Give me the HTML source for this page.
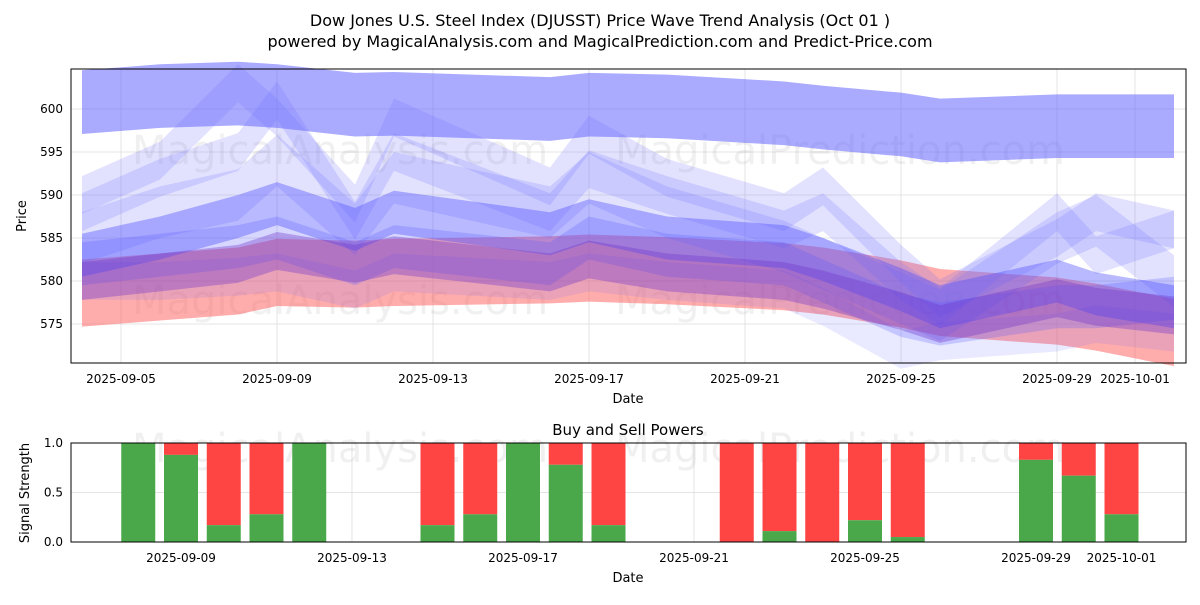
<!DOCTYPE html>
<html><head><meta charset="utf-8"><style>
body{margin:0;background:#fff;font-family:"Liberation Sans","DejaVu Sans",sans-serif}
svg text{font-family:"DejaVu Sans","Liberation Sans",sans-serif}
</style></head><body>
<svg id="c" width="1200" height="600" xmlns="http://www.w3.org/2000/svg">
<text x="600" y="26" text-anchor="middle" font-size="16">Dow Jones U.S. Steel Index (DJUSST) Price Wave Trend Analysis (Oct 01 )</text>
<text x="600" y="47" text-anchor="middle" font-size="16">powered by MagicalAnalysis.com and MagicalPrediction.com and Predict-Price.com</text>
<g id="topg"></g><g id="botg"></g>
</svg>
<script>
const bandDates=['2025-09-04','2025-09-06','2025-09-08','2025-09-09','2025-09-11','2025-09-12','2025-09-16','2025-09-17','2025-09-19','2025-09-22','2025-09-23','2025-09-25','2025-09-26','2025-09-29','2025-09-30','2025-10-02'];
const bandTopBlue=[600.8,601.5,601.8,601.5,600.5,600.6,600,600.5,600.3,599.5,599,598.2,597.5,598,598,598];
const bandRed=[578.6,579.3,580,581,580.8,581,581.3,581.5,581.2,580.5,580,578.5,577.5,576.5,575.8,574];
const bandMain=[583,585,587.5,589,586,588,585.5,587,585,584,582.5,579,577,580,578.5,577];
const bandPeak1=[590,594,603,599,589,599,591,597,592,588,591,582,578,585,588,586];
const bandPeak2=[588,592,595,601,587,595,588,593,590,586,588,580,577,588,583,586];
const bandMid=[585,588,590,594,586,592,588,592,588,584,582,578,576,585,587,580];
const bandLow=[582,583,584,585,582,584,582,585,583,582,580,576,575,577,577,578];
const bandLowest=[580,580,580.5,581,579,581,580,581,580,579,577,572,573,574,575,574];
const bandPurple=[580,581,582,583.5,582,583,581,582.5,581,580,579,576.5,575,578,577,576];
const barDates=['2025-09-08','2025-09-09','2025-09-10','2025-09-11','2025-09-12','2025-09-15','2025-09-16','2025-09-17','2025-09-18','2025-09-19','2025-09-22','2025-09-23','2025-09-24','2025-09-25','2025-09-26','2025-09-29','2025-09-30','2025-10-01'];
const buyPower=[1,0.88,0.17,0.28,1,0.17,0.28,1,0.78,0.17,0,0.11,0,0.22,0.05,0.83,0.67,0.28];
const yTicks=[575,580,585,590,595,600];
const xTopTicks=['2025-09-05','2025-09-09','2025-09-13','2025-09-17','2025-09-21','2025-09-25','2025-09-29','2025-10-01'];
const xBotTicks=['2025-09-09','2025-09-13','2025-09-17','2025-09-21','2025-09-25','2025-09-29','2025-10-01'];
const sTicks=[0,0.5,1];
const NS='http://www.w3.org/2000/svg';
const day=d=>(Date.parse(d)-Date.parse('2025-09-04'))/864e5;
const T={l:71,r:1186,t:69,b:363}, B={l:71,r:1186,t:443,b:542};
const xT=d=>82+day(d)*39.0, yT=v=>324-(v-575)*8.6;
const xB=d=>181+(day(d)-5)*42.75, yB=v=>542-v*99;
function el(p,tag,a,txt){const e=document.createElementNS(NS,tag);for(const k in a)e.setAttribute(k,a[k]);if(txt!=null)e.textContent=txt;p.appendChild(e);return e;}
const topG=document.getElementById('topg'), botG=document.getElementById('botg');
yTicks.forEach(v=>{const g=el(topG,'line',{x1:T.l,x2:T.r,y1:yT(v),y2:yT(v),stroke:'#ddd','stroke-width':0.8});

const t=el(topG,'text',{x:T.l-8,y:yT(v)+4,'text-anchor':'end','font-size':12},v);
});
xTopTicks.forEach(d=>{const g=el(topG,'line',{x1:xT(d),x2:xT(d),y1:T.t,y2:T.b,stroke:'#ddd','stroke-width':0.8});

const t=el(topG,'text',{x:xT(d),y:T.b+20,'text-anchor':'middle','font-size':12},d);
});
[[340,150,'MagicalAnalysis.com'],[840,150,'MagicalPrediction.com'],[340,300,'MagicalAnalysis.com'],[840,300,'MagicalPrediction.com']].forEach(w=>{
const t=el(topG,'text',{x:w[0],y:w[1]+14,'text-anchor':'middle','font-size':40,fill:'rgba(128,128,128,0.12)'},w[2]);
});
function band(arr,hw,color,name){
 const up=bandDates.map((d,i)=>xT(d)+','+yT(arr[i]+hw));
 const dn=bandDates.map((d,i)=>xT(d)+','+yT(arr[i]-hw)).reverse();
 const p=el(topG,'polygon',{points:up.concat(dn).join(' '),fill:color});
 }
band(bandTopBlue,3.7,'rgba(100,100,255,0.55)','band-upper');
band(bandRed,3.9,'rgba(255,90,90,0.5)','band-red');
band(bandPeak1,2.2,'rgba(110,110,255,0.2)','band-peak-1');
band(bandPeak2,2.2,'rgba(110,110,255,0.2)','band-peak-2');
band(bandMid,3,'rgba(110,110,255,0.2)','band-mid');
band(bandLowest,2.2,'rgba(110,110,255,0.15)','band-lowest');
band(bandLow,2.5,'rgba(90,90,255,0.25)','band-low');
band(bandMain,2.5,'rgba(80,80,255,0.4)','band-main');
band(bandPurple,2.2,'rgba(110,50,200,0.35)','band-purple');
let f=el(topG,'rect',{x:T.l,y:T.t,width:T.r-T.l,height:T.b-T.t,fill:'none',stroke:'#000','stroke-width':1});

let a=el(topG,'text',{x:628,y:403,'text-anchor':'middle','font-size':13},'Date');
a=el(topG,'text',{x:26,y:216,'text-anchor':'middle','font-size':13,transform:'rotate(-90 26 216)'},'Price');
a=el(botG,'text',{x:628,y:435,'text-anchor':'middle','font-size':15},'Buy and Sell Powers');
sTicks.forEach(v=>{const g=el(botG,'line',{x1:B.l,x2:B.r,y1:yB(v),y2:yB(v),stroke:'#ddd','stroke-width':0.8});

const t=el(botG,'text',{x:B.l-8,y:yB(v)+4,'text-anchor':'end','font-size':12},v.toFixed(1));
});
xBotTicks.forEach(d=>{const g=el(botG,'line',{x1:xB(d),x2:xB(d),y1:B.t,y2:B.b,stroke:'#ddd','stroke-width':0.8});

const t=el(botG,'text',{x:xB(d),y:B.b+20,'text-anchor':'middle','font-size':12},d);
});
[[340,'MagicalAnalysis.com'],[840,'MagicalPrediction.com']].forEach(w=>{
const t=el(botG,'text',{x:w[0],y:462,'text-anchor':'middle','font-size':40,fill:'rgba(128,128,128,0.12)'},w[1]);
});
barDates.forEach((d,i)=>{const x=xB(d)-17,v=buyPower[i];
const r=el(botG,'rect',{x:x,y:yB(1),width:34,height:yB(v)-yB(1),fill:'#ff4444'});

const g=el(botG,'rect',{x:x,y:yB(v),width:34,height:yB(0)-yB(v),fill:'#4aa84a'});
});
f=el(botG,'rect',{x:B.l,y:B.t,width:B.r-B.l,height:B.b-B.t,fill:'none',stroke:'#000','stroke-width':1});

a=el(botG,'text',{x:628,y:582,'text-anchor':'middle','font-size':13},'Date');
a=el(botG,'text',{x:29,y:493,'text-anchor':'middle','font-size':13,transform:'rotate(-90 29 493)'},'Signal Strength');
</script>
</body></html>
